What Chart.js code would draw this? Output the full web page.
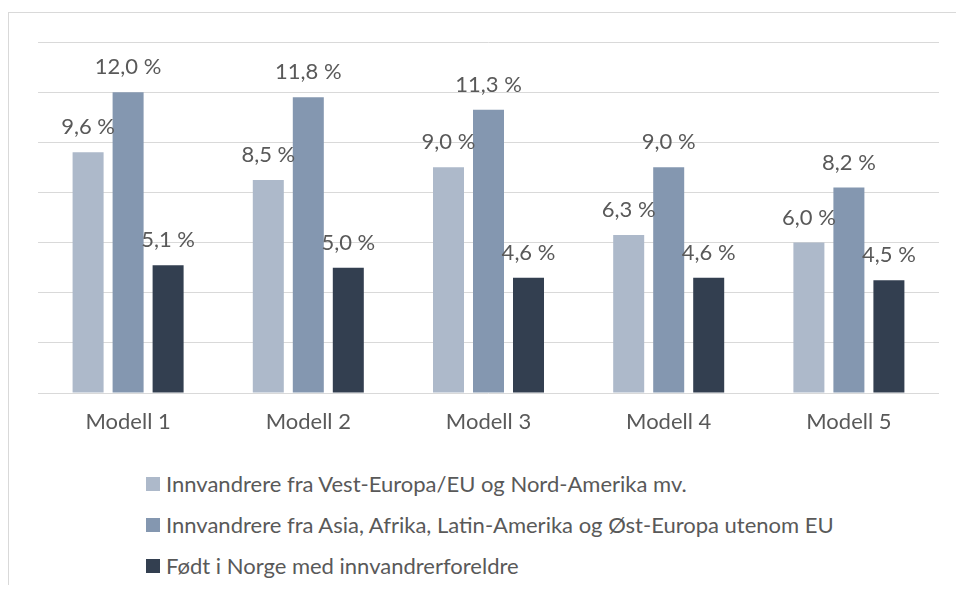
<!DOCTYPE html>
<html>
<head>
<meta charset="utf-8">
<script src="https://cdn.jsdelivr.net/npm/chart.js@4.4.1/dist/chart.umd.min.js"></script>
<style>
  body { margin: 0; background: #fff; }
  #wrap { position: relative; width: 956px; height: 595px; overflow: hidden; }
  #frame { position: absolute; left: 8px; top: 12px; width: 960px; height: 572px;
           border-left: 1px solid #D9D9D9; border-top: 1px solid #D9D9D9; }
  #chart { position: absolute; left: 0; top: 0; }
  #legend { position: absolute; left: 146px; top: 463px; font-family: Lato, sans-serif;
            font-size: 22px; color: #595959; }
  .item { display: flex; align-items: center; height: 41px; }
  .box { width: 14px; height: 14px; margin-right: 6px; }
</style>
</head>
<body>
<div id="wrap">
  <div id="frame"></div>
  <canvas id="chart" width="956" height="440"></canvas>
  <div id="legend"></div>
</div>
<script>
// data
let models = ["Modell 1", "Modell 2", "Modell 3", "Modell 4", "Modell 5"];
let vestEuropa = [9.6, 8.5, 9.0, 6.3, 6.0];
let asiaAfrika = [12.0, 11.8, 11.3, 9.0, 8.2];
let norskfodt = [5.1, 5.0, 4.6, 4.6, 4.5];
let seriesNames = [
    "Innvandrere fra Vest-Europa/EU og Nord-Amerika mv.",
    "Innvandrere fra Asia, Afrika, Latin-Amerika og Øst-Europa utenom EU",
    "Født i Norge med innvandrerforeldre"
];
let seriesColors = ["#ADB9CA", "#8497B0", "#333F50"];

Chart.defaults.font.family = "Lato, sans-serif";
Chart.defaults.font.size = 22;
Chart.defaults.color = "#595959";

// value labels above each bar, Norwegian decimal comma
let valueLabels = {
    id: "valueLabels",
    afterDatasetsDraw(chart) {
        let ctx = chart.ctx;
        ctx.save();
        ctx.font = "22px Lato, sans-serif";
        ctx.fillStyle = "#595959";
        ctx.textAlign = "center";
        ctx.textBaseline = "middle";
        chart.data.datasets.forEach((ds, i) => {
            chart.getDatasetMeta(i).data.forEach((bar, j) => {
                let text = ds.data[j].toFixed(1).replace(".", ",") + " %";
                ctx.fillText(text, bar.x, bar.y - 25);
            });
        });
        ctx.restore();
    }
};

let allSeries = [vestEuropa, asiaAfrika, norskfodt];

let chart = new Chart(document.getElementById("chart").getContext("2d"), {
    type: "bar",
    data: {
        labels: models,
        datasets: allSeries.map((values, i) => ({
            label: seriesNames[i],
            data: values,
            backgroundColor: seriesColors[i],
            categoryPercentage: 0.666,
            barPercentage: 0.775
        }))
    },
    options: {
        responsive: false,
        animation: false,
        devicePixelRatio: 1,
        layout: { padding: { left: 38, right: 17, top: 42, bottom: 0 } },
        plugins: {
            legend: { display: false },
            tooltip: { enabled: false }
        },
        scales: {
            y: {
                min: 0,
                max: 14,
                ticks: { display: false, stepSize: 2 },
                grid: { color: "#D9D9D9", lineWidth: 1, drawTicks: false },
                border: { display: false },
                afterFit(scale) { scale.width = 0; }
            },
            x: {
                grid: { display: false },
                border: { display: false },
                ticks: { padding: 8, color: "#595959" },
                afterFit(scale) { scale.height = 47; }
            }
        }
    },
    plugins: [valueLabels]
});

// legend as a vertical list
let legend = document.getElementById("legend");
seriesNames.forEach((name, i) => {
    let row = document.createElement("div");
    row.className = "item";
    let box = document.createElement("span");
    box.className = "box";
    box.style.background = seriesColors[i];
    let label = document.createElement("span");
    label.textContent = name;
    row.appendChild(box);
    row.appendChild(label);
    legend.appendChild(row);
});
</script>
</body>
</html>
